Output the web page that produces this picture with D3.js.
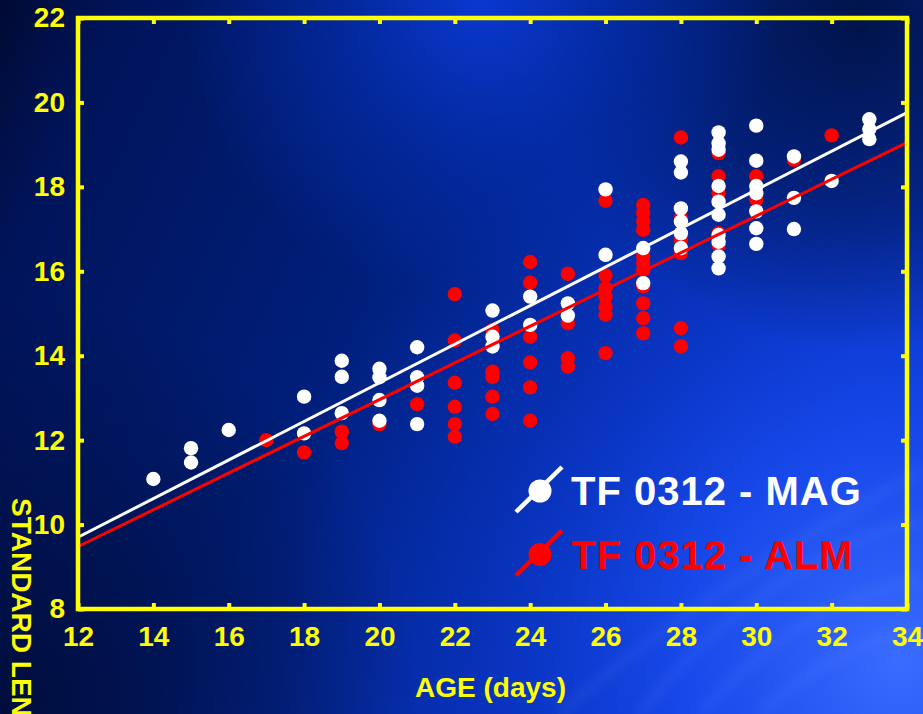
<!DOCTYPE html>
<html>
<head>
<meta charset="utf-8">
<script src="https://cdn.jsdelivr.net/npm/d3@7"></script>
<style>
  html, body { margin: 0; padding: 0; background: #001550; }
  svg { display: block; }
</style>
</head>
<body>
<svg id="chart" width="923" height="714"></svg>
<script>
// Standard length vs age for two rearing groups
const xTicks = [12, 14, 16, 18, 20, 22, 24, 26, 28, 30, 32, 34];
const yTicks = [8, 10, 12, 14, 16, 18, 20, 22];

// TF 0312 - MAG : [age (days), standard length]
const magAge = [14, 15, 15, 16, 18, 18, 19, 19, 19, 20, 20, 20, 20, 21, 21, 21, 21,
  23, 23, 23, 24, 24, 25, 25, 26, 26, 27, 27,
  28, 28, 28, 28, 28, 28,
  29, 29, 29, 29, 29, 29, 29, 29, 29, 29,
  30, 30, 30, 30, 30, 30, 30,
  31, 31, 31, 32, 33, 33, 33];
const magLength = [11.08, 11.81, 11.47, 12.24, 13.03, 12.16, 13.88, 13.50, 12.64, 13.69, 13.49, 12.95, 12.46, 14.20, 13.49, 13.29, 12.38,
  15.07, 14.45, 14.22, 15.40, 14.73, 15.24, 14.95, 17.94, 16.39, 16.55, 15.72,
  18.60, 18.34, 17.49, 17.18, 16.90, 16.55,
  19.29, 19.03, 18.88, 18.02, 17.65, 17.34, 16.86, 16.70, 16.35, 16.07,
  19.45, 18.62, 18.02, 17.85, 17.42, 17.02, 16.65,
  18.72, 17.74, 17.00, 18.14, 19.60, 19.37, 19.13];

// TF 0312 - ALM : [age (days), standard length]
const almAge = [17, 18, 19, 19, 20, 21,
  22, 22, 22, 22, 22, 22,
  23, 23, 23, 23, 23,
  24, 24, 24, 24, 24, 24,
  25, 25, 25, 25,
  26, 26, 26, 26, 26, 26, 26,
  27, 27, 27, 27, 27, 27, 27, 27, 27, 27, 27,
  28, 28, 28, 28, 28, 28,
  29, 29, 29, 29, 29,
  30, 30, 31, 32];
const almLength = [12.00, 11.71, 12.20, 11.93, 12.38, 12.85,
  15.46, 14.36, 13.36, 12.79, 12.38, 12.08,
  14.61, 13.62, 13.50, 13.03, 12.62,
  16.22, 15.73, 14.45, 13.84, 13.25, 12.46,
  15.94, 14.77, 13.94, 13.74,
  17.67, 15.90, 15.60, 15.40, 15.16, 14.97, 14.06,
  17.57, 17.38, 17.18, 16.98, 16.35, 16.19, 16.03, 15.64, 15.24, 14.89, 14.53,
  19.17, 17.26, 16.74, 16.43, 14.65, 14.22,
  18.80, 18.25, 17.85, 16.90, 16.63,
  18.25, 17.70, 18.64, 19.22];

// Fitted regression lines: [age, length] at both ends of the age axis
const magFit = [[12, 9.70], [34, 19.76]];
const almFit = [[12, 9.48], [34, 19.05]];

const seriesNames = ["TF 0312 - MAG", "TF 0312 - ALM"];
const seriesColors = ["#ffffff", "#ff0000"];
const xTitle = "AGE (days)";
const yTitle = "STANDARD LENGTH (mm)";

const W = 923, H = 714;
const plot = { left: 78, right: 907, top: 18, bottom: 609 };
const AXIS = "#ffff00";
const FONT = "'Liberation Sans', Arial, sans-serif";

const svg = d3.select("#chart");
const defs = svg.append("defs");

// ---- background ----
const base = defs.append("linearGradient").attr("id", "bgBase")
  .attr("x1", 0).attr("y1", 0).attr("x2", 1).attr("y2", 0.35);
[[0, "#000a33"], [0.12, "#00145a"], [0.45, "#001e78"], [0.75, "#052ca8"], [1, "#0a38cc"]]
  .forEach(([o, c]) => base.append("stop").attr("offset", o).attr("stop-color", c));

function radial(id, cx, cy, r, stops) {
  const g = defs.append("radialGradient").attr("id", id)
    .attr("gradientUnits", "userSpaceOnUse")
    .attr("cx", cx).attr("cy", cy).attr("r", r);
  stops.forEach(([o, c, a]) => g.append("stop").attr("offset", o)
    .attr("stop-color", c).attr("stop-opacity", a));
}
radial("glowTop", 480, 0, 300, [[0, "#0a3ad6", 0.95], [0.6, "#0530b8", 0.45], [1, "#0530b8", 0]]);
radial("glowBR", 900, 660, 620, [[0, "#3a6cff", 1], [0.35, "#1a4cf0", 0.85], [0.7, "#0a38d0", 0.35], [1, "#0a38d0", 0]]);
radial("darkTR", 860, 20, 330, [[0, "#001244", 0.95], [0.55, "#001550", 0.6], [1, "#001550", 0]]);
radial("darkBL", 0, 714, 420, [[0, "#000a30", 0.8], [1, "#000a30", 0]]);

svg.append("rect").attr("width", W).attr("height", H).attr("fill", "url(#bgBase)");
svg.append("rect").attr("width", W).attr("height", H).attr("fill", "url(#glowBR)");
svg.append("rect").attr("width", W).attr("height", H).attr("fill", "url(#darkTR)");
svg.append("rect").attr("width", W).attr("height", H).attr("fill", "url(#glowTop)");
svg.append("rect").attr("width", W).attr("height", H).attr("fill", "url(#darkBL)");

// soft light streaks in the lower right
const blur = defs.append("filter").attr("id", "soft").attr("x", "-50%").attr("y", "-50%")
  .attr("width", "200%").attr("height", "200%");
blur.append("feGaussianBlur").attr("stdDeviation", 6);
const streaks = svg.append("g").attr("filter", "url(#soft)").attr("fill", "none")
  .attr("stroke", "#6f95ff").attr("stroke-opacity", 0.22).attr("stroke-width", 5);
[[640, 714, 760, 560, 923, 520], [700, 714, 800, 600, 923, 580], [760, 714, 840, 640, 923, 630],
 [560, 714, 700, 590, 923, 470]]
  .forEach(([x0, y0, cx, cy, x1, y1]) =>
    streaks.append("path").attr("d", `M${x0},${y0} Q${cx},${cy} ${x1},${y1}`));

// ---- scales ----
const x = d3.scaleLinear().domain([12, 34]).range([plot.left, plot.right]);
const y = d3.scaleLinear().domain([8, 22]).range([plot.bottom, plot.top]);

// ---- points ----
const mag = magAge.map((a, i) => ({ age: a, len: magLength[i] }));
const alm = almAge.map((a, i) => ({ age: a, len: almLength[i] }));

svg.append("g").selectAll("circle").data(alm).join("circle")
  .attr("cx", d => x(d.age)).attr("cy", d => y(d.len)).attr("r", 7.2)
  .attr("fill", seriesColors[1]);
svg.append("g").selectAll("circle").data(mag).join("circle")
  .attr("cx", d => x(d.age)).attr("cy", d => y(d.len)).attr("r", 7.2)
  .attr("fill", seriesColors[0]);

// ---- regression lines ----
const line = d3.line().x(d => x(d[0])).y(d => y(d[1]));
svg.append("path").datum(magFit).attr("d", line).attr("fill", "none")
  .attr("stroke", seriesColors[0]).attr("stroke-width", 3);
svg.append("path").datum(almFit).attr("d", line).attr("fill", "none")
  .attr("stroke", seriesColors[1]).attr("stroke-width", 3);

// ---- frame and axes ----
const tickLen = 6;
function styleAxis(g) {
  g.select(".domain").remove();
  g.selectAll(".tick line").attr("stroke", AXIS).attr("stroke-width", 4);
  g.selectAll(".tick text").attr("fill", AXIS)
    .attr("font-family", FONT).attr("font-weight", "bold").attr("font-size", 28);
}
svg.append("g").attr("transform", `translate(0,${plot.bottom})`)
  .call(d3.axisBottom(x).tickValues(xTicks).tickFormat(d3.format("d"))
    .tickSizeInner(-tickLen).tickSizeOuter(0).tickPadding(17))
  .call(styleAxis)
  .call(g => g.selectAll(".tick text").attr("dy", "0.71em"));
svg.append("g").attr("transform", `translate(0,${plot.top})`)
  .call(d3.axisTop(x).tickValues(xTicks).tickFormat("").tickSizeInner(-tickLen).tickSizeOuter(0))
  .call(styleAxis);
svg.append("g").attr("transform", `translate(${plot.left},0)`)
  .call(d3.axisLeft(y).tickValues(yTicks).tickFormat(d3.format("d"))
    .tickSizeInner(-tickLen).tickSizeOuter(0).tickPadding(13))
  .call(styleAxis);
svg.append("g").attr("transform", `translate(${plot.right},0)`)
  .call(d3.axisRight(y).tickValues(yTicks).tickFormat("").tickSizeInner(-tickLen).tickSizeOuter(0))
  .call(styleAxis);

svg.append("rect")
  .attr("x", plot.left).attr("y", plot.top)
  .attr("width", plot.right - plot.left).attr("height", plot.bottom - plot.top)
  .attr("fill", "none").attr("stroke", AXIS).attr("stroke-width", 4.5);

// ---- axis titles ----
svg.append("text").attr("x", (plot.left + plot.right) / 2 - 2).attr("y", 697)
  .attr("text-anchor", "middle").attr("fill", AXIS)
  .attr("font-family", FONT).attr("font-weight", "bold").attr("font-size", 28)
  .text(xTitle);
// the vertical title runs down past the bottom edge of the page
svg.append("text").attr("transform", "translate(12,498) rotate(90)")
  .attr("fill", AXIS).attr("font-family", FONT).attr("font-weight", "bold").attr("font-size", 28)
  .text(yTitle);

// ---- legend ----
const legend = svg.append("g");
seriesNames.forEach((name, i) => {
  const cy = 491 + i * 63.5;
  const g = legend.append("g").attr("transform", `translate(540,${cy})`);
  g.append("line").attr("x1", -24).attr("y1", 21).attr("x2", 22).attr("y2", -24)
    .attr("stroke", seriesColors[i]).attr("stroke-width", 4.5);
  g.append("circle").attr("r", 11.5).attr("fill", seriesColors[i]);
  g.append("text").attr("x", 31).attr("y", 14)
    .attr("fill", seriesColors[i]).attr("font-family", FONT).attr("font-weight", "bold")
    .attr("font-size", 40).attr("letter-spacing", 1)
    .text(name);
});
</script>
</body>
</html>
